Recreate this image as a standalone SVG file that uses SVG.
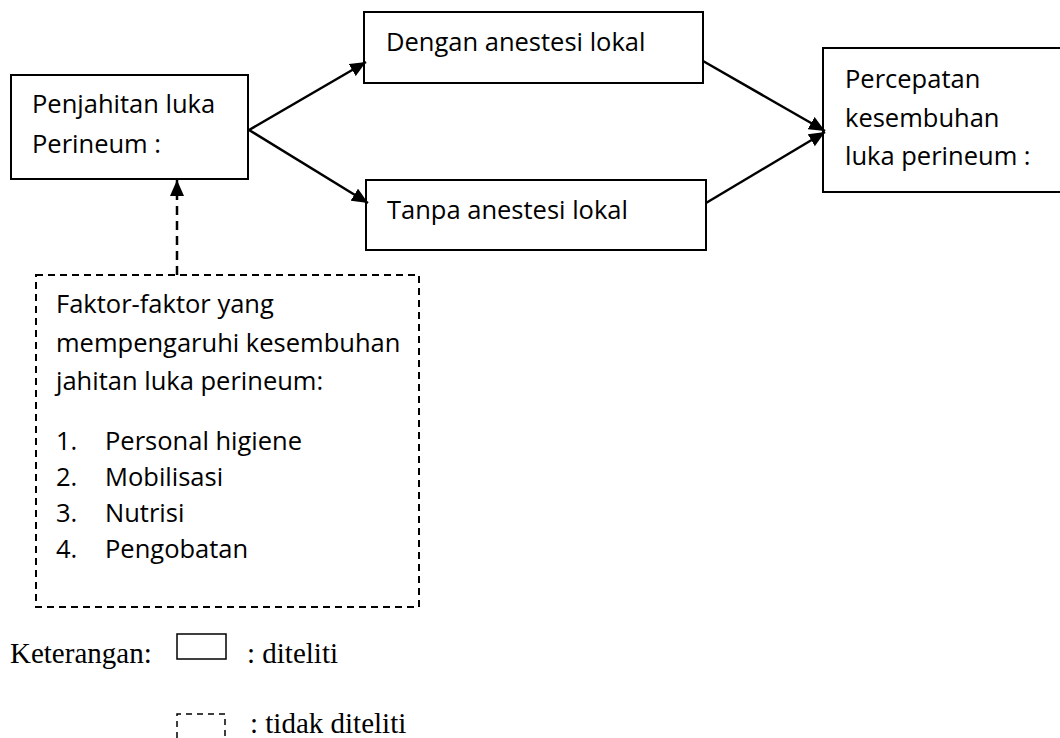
<svg xmlns="http://www.w3.org/2000/svg" width="1060" height="738" viewBox="0 0 1060 738">
<style>
.box{fill:#fff;stroke:#000;stroke-width:2}
.dash{fill:none;stroke:#000;stroke-width:2;stroke-dasharray:7 5}
.t{font-family:"Open Sans","Noto Sans","Liberation Sans",sans-serif;font-size:25.5px;fill:#000}
.tr{font-family:"Liberation Serif","Times New Roman",serif;font-size:29px;fill:#000}
.ln{stroke:#000;stroke-width:2.5;fill:none}
</style>
<defs>
<marker id="ah" viewBox="0 0 16 14" refX="16" refY="7" markerWidth="16" markerHeight="14" markerUnits="userSpaceOnUse" orient="auto">
<path d="M0,0 L16,7 L0,14 Z" fill="#000"/>
</marker>
</defs>
<g id="node-penjahitan">
<rect class="box" x="11" y="75" width="237" height="104"/>
<text class="t" x="32" y="113">Penjahitan luka</text>
<text class="t" x="32" y="153">Perineum :</text>
</g>
<g id="node-dengan">
<rect class="box" x="364" y="12" width="339" height="71"/>
<text class="t" x="386" y="51">Dengan anestesi lokal</text>
</g>
<g id="node-tanpa">
<rect class="box" x="366" y="180" width="340" height="70"/>
<text class="t" x="387" y="219">Tanpa anestesi lokal</text>
</g>
<g id="node-percepatan">
<rect class="box" x="823" y="48" width="250" height="144"/>
<text class="t" x="845" y="88">Percepatan</text>
<text class="t" x="845" y="127">kesembuhan</text>
<text class="t" x="845" y="165">luka perineum :</text>
</g>
<g id="node-faktor">
<rect class="dash" x="36" y="275" width="383" height="332"/>
<text class="t" x="56" y="313">Faktor-faktor yang</text>
<text class="t" x="56" y="352">mempengaruhi kesembuhan</text>
<text class="t" x="56" y="390">jahitan luka perineum:</text>
<text class="t" x="56" y="450">1.</text><text class="t" x="105" y="450">Personal higiene</text>
<text class="t" x="56" y="486">2.</text><text class="t" x="105" y="486">Mobilisasi</text>
<text class="t" x="56" y="522">3.</text><text class="t" x="105" y="522">Nutrisi</text>
<text class="t" x="56" y="558">4.</text><text class="t" x="105" y="558">Pengobatan</text>
</g>
<g id="connectors">
<line class="ln" x1="249" y1="130" x2="366" y2="62" marker-end="url(#ah)"/>
<line class="ln" x1="249" y1="130" x2="368" y2="203" marker-end="url(#ah)"/>
<line class="ln" x1="703" y1="61" x2="825" y2="131" marker-end="url(#ah)"/>
<line class="ln" x1="706" y1="203" x2="825" y2="132" marker-end="url(#ah)"/>
<line class="ln" x1="177" y1="275" x2="177" y2="180" stroke-dasharray="9 6" marker-end="url(#ah)"/>
</g>
<g id="legend">
<text class="tr" x="10" y="663">Keterangan:</text>
<rect x="177" y="634" width="49" height="25" fill="none" stroke="#000" stroke-width="1.5"/>
<text class="tr" x="247" y="663">: diteliti</text>
<path d="M177,738 V714 H225 V738" fill="none" stroke="#000" stroke-width="1.5" stroke-dasharray="6 5"/>
<text class="tr" x="250" y="733">: tidak diteliti</text>
</g>
</svg>
